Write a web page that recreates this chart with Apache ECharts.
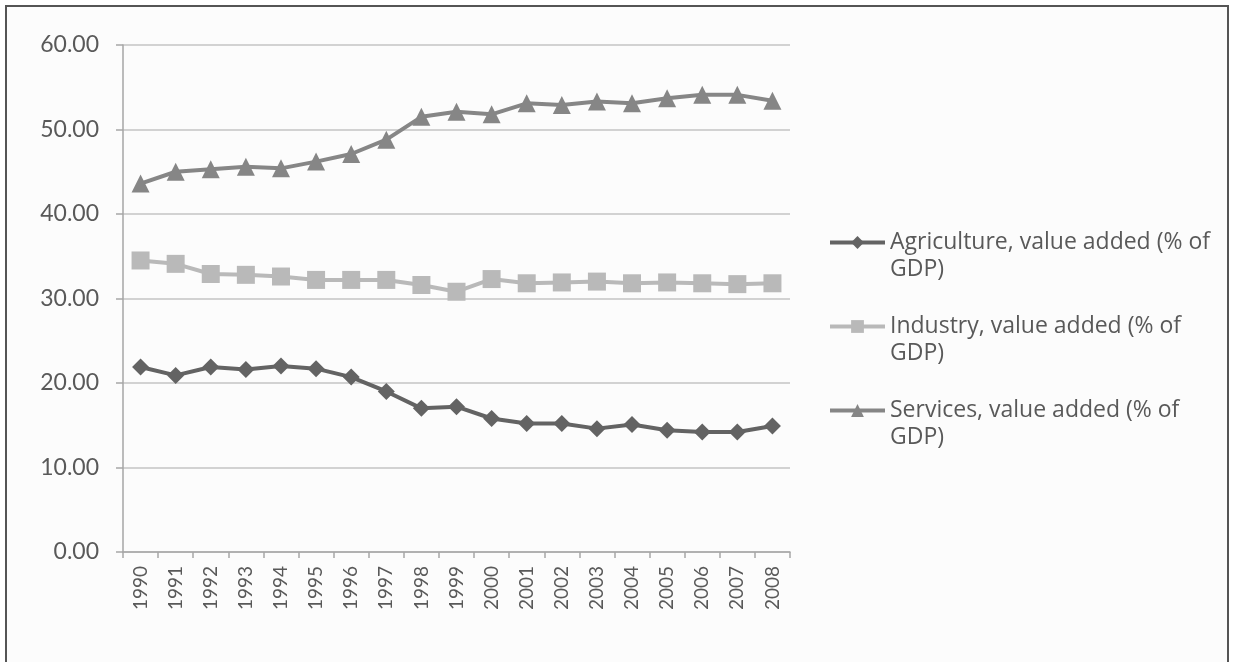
<!DOCTYPE html>
<html>
<head>
<meta charset="utf-8">
<script src="https://cdn.jsdelivr.net/npm/echarts@6/dist/echarts.min.js"></script>
<style>
  html, body { margin: 0; padding: 0; background: #ffffff; }
  #chart { width: 1234px; height: 662px; }
</style>
</head>
<body>
<div id="chart"></div>
<script>
// Value added by sector, % of GDP, 1990-2008
const years = ['1990','1991','1992','1993','1994','1995','1996','1997','1998','1999',
               '2000','2001','2002','2003','2004','2005','2006','2007','2008'];
const agriculture = [21.9, 20.9, 21.9, 21.6, 22.0, 21.7, 20.7, 19.0, 17.0, 17.2,
                     15.8, 15.2, 15.2, 14.6, 15.1, 14.4, 14.2, 14.2, 14.9];
const industry    = [34.5, 34.1, 32.9, 32.8, 32.6, 32.2, 32.2, 32.2, 31.6, 30.8,
                     32.3, 31.8, 31.9, 32.0, 31.8, 31.9, 31.8, 31.7, 31.8];
const services    = [43.6, 45.0, 45.3, 45.6, 45.4, 46.2, 47.1, 48.8, 51.5, 52.1,
                     51.8, 53.1, 52.9, 53.3, 53.1, 53.7, 54.1, 54.1, 53.4];
const seriesNames = ['Agriculture, value added (% of GDP)',
                     'Industry, value added (% of GDP)',
                     'Services, value added (% of GDP)'];
const yTicks = { min: 0, max: 60, interval: 10 };

const FONT = 'Lato';
const LEGEND_FONT = 'Open Sans';
const textGray = '#595959';

const chart = echarts.init(document.getElementById('chart'), null, { renderer: 'canvas' });

function lineSeries(name, data, color, symbol, size) {
  return {
    name: name,
    type: 'line',
    data: data,
    symbol: symbol,
    symbolSize: size,
    showAllSymbol: true,
    lineStyle: { color: color, width: 4 },
    itemStyle: { color: color },
    emphasis: { disabled: true },
    animation: false
  };
}

chart.setOption({
  backgroundColor: '#ffffff',
  animation: false,
  graphic: [{
    type: 'rect',
    z: -10,
    shape: { x: 6, y: 6, width: 1222, height: 700 },
    style: { fill: '#fcfcfc', stroke: '#555555', lineWidth: 2 }
  }],
  grid: { left: 123, right: 444, top: 45, bottom: 110, containLabel: false },
  legend: {
    orient: 'vertical',
    left: 828,
    top: 202,
    padding: 0,
    itemWidth: 55,
    itemHeight: 16,
    itemGap: 3,
    selectedMode: false,
    data: seriesNames,
    lineStyle: { width: 4 },
    formatter: function (name) {
      return '\n' + name.replace(' GDP)', '\nGDP)');
    },
    textStyle: {
      fontFamily: LEGEND_FONT, fontSize: 23, color: textGray,
      lineHeight: 27
    }
  },
  xAxis: {
    type: 'category',
    data: years,
    boundaryGap: true,
    axisLine: { lineStyle: { color: '#a6a6a6', width: 1.5 } },
    axisTick: { show: true, length: 6, alignWithLabel: false, lineStyle: { color: '#a6a6a6', width: 1.5 } },
    axisLabel: {
      interval: 0, rotate: 90, margin: 14,
      fontFamily: FONT, fontSize: 19, color: textGray
    },
    splitLine: { show: false }
  },
  yAxis: {
    type: 'value',
    min: yTicks.min, max: yTicks.max, interval: yTicks.interval,
    axisLine: { show: true, lineStyle: { color: '#a6a6a6', width: 1.5 } },
    axisTick: { show: true, length: 7, lineStyle: { color: '#a6a6a6', width: 1.5 } },
    axisLabel: {
      margin: 24,
      fontFamily: FONT, fontSize: 23, color: textGray,
      formatter: function (v) { return v.toFixed(2); }
    },
    splitLine: { show: true, lineStyle: { color: '#c4c4c4', width: 1.5 } }
  },
  series: [
    lineSeries(seriesNames[0], agriculture, '#636363', 'diamond', 17),
    lineSeries(seriesNames[1], industry, '#b9b9b9', 'rect', 18),
    lineSeries(seriesNames[2], services, '#868686', 'triangle', 18)
  ]
});
</script>
</body>
</html>
